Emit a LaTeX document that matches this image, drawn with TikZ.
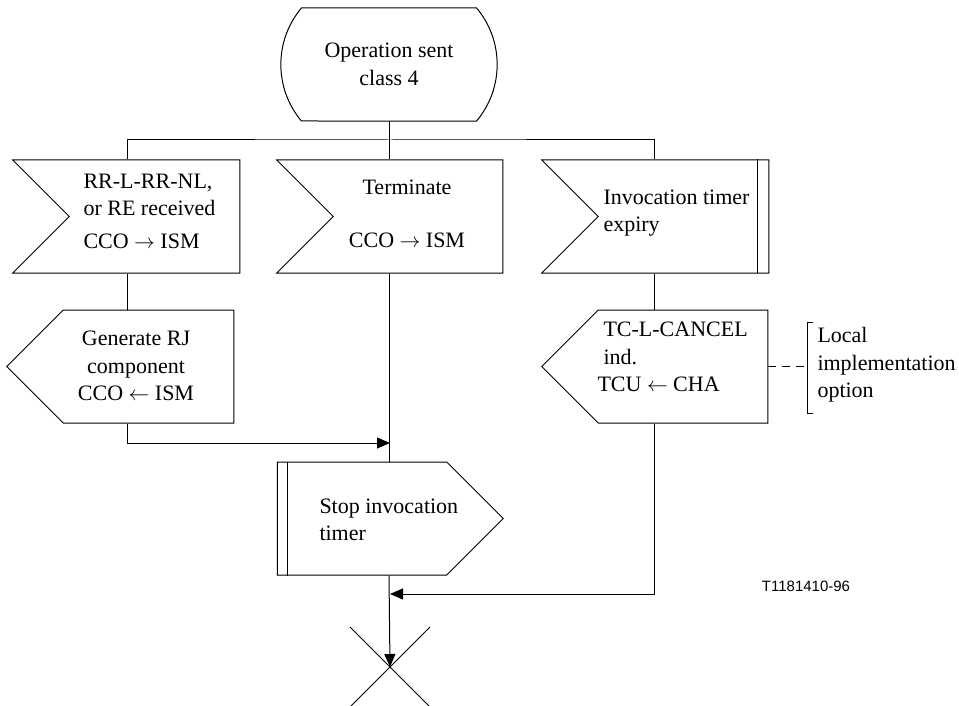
\documentclass[tikz,border=0pt]{standalone}
\usepackage{fontspec}
\setmainfont{Liberation Serif}
\newfontfamily\tagfont{Liberation Sans}
\usetikzlibrary{shapes.symbols,shapes.misc,arrows.meta,positioning}

\begin{document}
\begin{tikzpicture}[x=1pt,y=-1pt,line width=1pt,
 font=\fontsize{22}{27.5}\selectfont,
 sym/.style={draw,minimum width=227pt,minimum height=113pt,inner sep=0pt},
 inbox/.style={sym,shape=signal,signal from=west,signal to=nowhere},
 outbox/.style={sym,shape=signal,signal to=west,signal from=nowhere},
 timerbox/.style={sym,shape=signal,signal to=east,signal from=nowhere},
 statebox/.style={draw,shape=rounded rectangle,rounded rectangle arc length=80,
   minimum width=223pt,minimum height=113pt,align=center},
 txt/.style={inner sep=0pt,align=left,anchor=west},
 arr/.style={-{Triangle[length=13pt,width=11pt]}}]
\useasboundingbox (0,0) rectangle (959,706);
% state
\node[statebox] (st) at (389,64.5) {Operation sent\\class 4};
\coordinate (bus) at (390,140);
% inputs
\node[inbox] (in1) at (154.5,216.5) {};
\node[inbox,minimum width=226pt] (in2) at (418,216.5) {};
\node[inbox] (in3) at (683.5,216.5) {};
\node[txt] (in1t) at (83,211) {RR-L-RR-NL,\\or RE received\\[5pt]CCO $\rightarrow$ ISM};
\node[txt,anchor=center,align=center] (in2t) at (407,214) {Terminate\\[25pt]CCO $\rightarrow$ ISM};
\node[txt] (in3t) at (603,213) {Invocation timer\\expiry};
\draw ([xshift=-12pt]in3.north east) -- ([xshift=-12pt]in3.south east);
% outputs
\node[outbox] (out1) at (148.5,366.5) {};
\node[outbox,minimum width=226pt] (out2) at (683,366.5) {};
\node[txt,anchor=center,align=center] (out1t) at (136,366) {Generate RJ\\component\\CCO $\leftarrow$ ISM};
\node[txt] (out2t) at (597,357) {\hspace{6pt}TC-L-CANCEL\\\hspace{6pt}ind.\\TCU $\leftarrow$ CHA};
% timer
\node[timerbox,minimum width=226pt] (stop) at (362,518.5) {};
\node[txt] (stopt) at (319,520) {Stop invocation\\timer};
\draw ([xshift=11pt]stop.north west) -- ([xshift=11pt]stop.south west);
\node[draw,cross out,minimum size=79pt,inner sep=0pt] (end) at (390,667) {};
% note
\node[txt] (note) at (817,365) {Local\\implementation\\option};
\coordinate (bt) at (807,322);
\coordinate (bb) at (807,413);
\draw ([xshift=6pt]bt) -- (bt) -- (bb) -- ++(6,0);
\draw[dashed,dash pattern=on 8pt off 6pt] (out2.east) -- (out2.east -| bt);
\node[font=\tagfont\fontsize{15}{18}\selectfont,inner sep=0pt] (tag) at (806,586) {T1181410-96};
% connectors
\coordinate (b1) at ([xshift=-27.5pt]in1.north);
\coordinate (b3) at ([xshift=-29pt]in3.north);
\coordinate (j1) at (390,443);
\coordinate (j2) at (390,594);
\draw (st.south) -- (st.south |- in2.north);
\draw (b1) |- (bus) -| (b3);
\draw (b1 |- in1.south) -- (b1 |- out1.north);
\draw[arr] (b1 |- out1.south) |- (j1);
\draw (st.south |- in2.south) -- (st.south |- stop.north);
\draw (b3 |- in3.south) -- (b3 |- out2.north);
\draw[arr] (b3 |- out2.south) |- (j2);
\draw[arr] (st.south |- stop.south) -- (end.center);
\end{tikzpicture}
\end{document}
